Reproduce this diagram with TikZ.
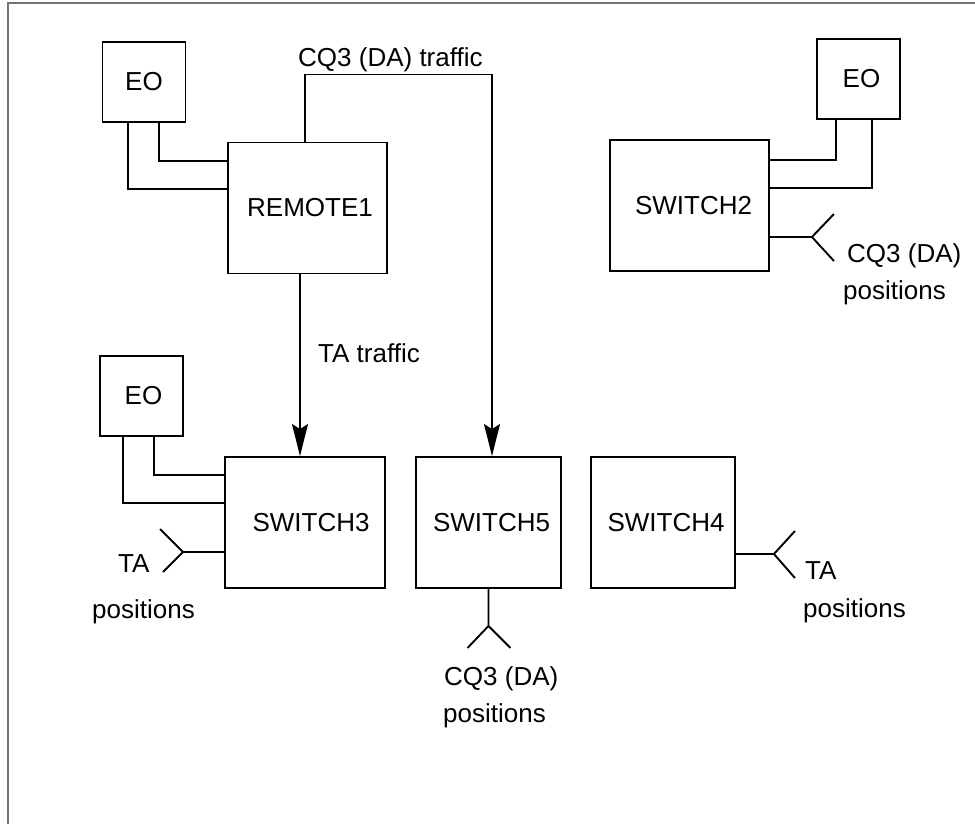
\documentclass[tikz,border=0pt]{standalone}
\usepackage{fontspec}
\setmainfont{Liberation Sans}
\usetikzlibrary{arrows.meta,positioning}
\newcommand{\diafont}{\fontsize{26}{31}\selectfont}
\tikzset{
  unit/.style={rectangle, draw=black, line width=1.9pt, font=\diafont, inner sep=0pt},
  eobox/.style={unit, minimum width=83pt, minimum height=80pt},
  swbox/.style={unit, minimum width=159pt, minimum height=131pt},
  wire/.style={draw=black, line width=1.9pt},
  arr/.style={wire, -{Stealth[length=32pt, width=16pt, inset=5pt]}},
  lbl/.style={font=\diafont, inner sep=0pt, anchor=base west},
  frame/.style={draw=black!55, line width=2pt},
}
\begin{document}
\begin{tikzpicture}[x=1pt, y=-1pt]
\useasboundingbox (0,0) rectangle (975,824);
\draw[frame] (7.5,824) -- (7.5,3.5) -- (975,3.5);
% offices and switches
\node[eobox] (eo1) at (144,82) {EO};
\node[swbox] (rem1) at (307.5,208) {\hspace*{5pt}REMOTE1};
\node[swbox] (sw2) at (689.5,205.5) {\hspace*{8pt}SWITCH2};
\node[eobox] (eo2) at (858.5,79) {\hspace*{6pt}EO};
\node[eobox] (eo3) at (141.5,396) {\hspace*{4pt}EO};
\node[swbox, minimum width=160pt] (sw3) at (305,522.5) {\hspace*{12pt}SWITCH3};
\node[swbox, minimum width=145pt] (sw5) at (488.5,522.5) {\hspace*{6pt}SWITCH5};
\node[swbox, minimum width=144pt] (sw4) at (663,522.5) {\hspace*{6pt}SWITCH4};
% EO trunks
\draw[wire] ([xshift=-16]eo1.south) |- ([yshift=19]rem1.west);
\draw[wire] ([xshift=15]eo1.south) |- ([yshift=47]rem1.west);
\draw[wire] ([xshift=-22.5]eo2.south) |- ([yshift=45.5]sw2.east);
\draw[wire] ([xshift=13.5]eo2.south) |- ([yshift=17.5]sw2.east);
\draw[wire] ([xshift=-18.5]eo3.south) |- ([yshift=19.5]sw3.west);
\draw[wire] ([xshift=12.5]eo3.south) |- ([yshift=47.5]sw3.west);
% traffic
\draw[arr] ([xshift=-2.5]rem1.north) -- ++(0,-67) coordinate (cq) -| ([xshift=3.5]sw5.north);
\node[lbl] at ([xshift=-7, yshift=8]cq) {CQ3 (DA) traffic};
\coordinate (ta) at ([xshift=-7.5]rem1.south);
\draw[arr] (ta) -- (ta |- sw3.north);
\node[lbl] at (318,362) {TA traffic};
% operator positions
\draw[wire] ([yshift=-31.5]sw2.east) -- ++(42,0) coordinate (ant2) -- ++(22,-23) (ant2) -- ++(22,24);
\draw[wire] ([yshift=-31.5]sw4.east) -- ++(38,0) coordinate (ant4) -- ++(21,-23) (ant4) -- ++(21,24);
\draw[wire] ([yshift=-29.5]sw3.west) -- ++(-41,0) coordinate (ant3) -- ++(-23,-23) (ant3) -- ++(-20,20);
\draw[wire] (sw5.south) -- ++(0,37) coordinate (ant5) -- ++(-21,22) (ant5) -- ++(22,22);
\node[lbl] at (847,262) {CQ3 (DA)};
\node[lbl] at (843,299) {positions};
\node[lbl] at (118,572) {TA};
\node[lbl] at (92,618) {positions};
\node[lbl] at (444,685) {CQ3 (DA)};
\node[lbl] at (443,722) {positions};
\node[lbl] at (805,579) {TA};
\node[lbl] at (803,617) {positions};
\end{tikzpicture}
\end{document}
